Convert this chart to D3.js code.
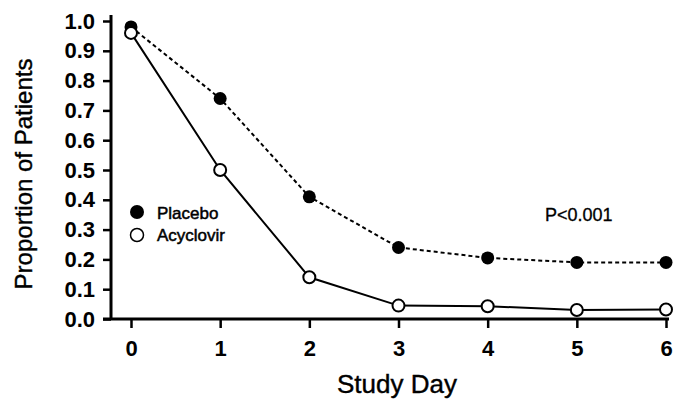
<!DOCTYPE html>
<html lang="en">
<head>
<meta charset="utf-8">
<script src="https://d3js.org/d3.v7.min.js"></script>
<style>
  body { margin: 0; background: #fff; }
  text { font-family: "Liberation Sans", Arial, sans-serif; fill: #000; }
  .tick text { font-weight: bold; font-size: 22px; }
</style>
</head>
<body>
<div id="chart"></div>
<script>
// data
var days = [0, 1, 2, 3, 4, 5, 6];
var placebo = [0.98, 0.74, 0.41, 0.24, 0.205, 0.19, 0.19];
var acyclovir = [0.96, 0.50, 0.14, 0.045, 0.043, 0.03, 0.032];
var yTicks = [0, 0.1, 0.2, 0.3, 0.4, 0.5, 0.6, 0.7, 0.8, 0.9, 1.0];

var W = 678, H = 402;
var svg = d3.select("#chart").append("svg")
  .attr("width", W).attr("height", H);

var x = d3.scaleLinear().domain([0, 6]).range([131, 666]);
var y = d3.scaleLinear().domain([0, 1]).range([319, 21]);

// y axis
var yAx = svg.append("g")
  .attr("transform", "translate(111,0)")
  .call(d3.axisLeft(y).tickValues(yTicks).tickFormat(d3.format(".1f")).tickSize(8).tickPadding(8).tickSizeOuter(0));
yAx.select(".domain").remove();
yAx.selectAll(".tick line").attr("stroke-width", 2.5);
yAx.append("line").attr("x1", 0).attr("x2", 0).attr("y1", 15).attr("y2", 320)
  .attr("stroke", "#000").attr("stroke-width", 3);

// x axis
var xAx = svg.append("g")
  .attr("transform", "translate(0,319)")
  .call(d3.axisBottom(x).tickValues(days).tickFormat(d3.format("d")).tickSize(9).tickPadding(12).tickSizeOuter(0));
xAx.select(".domain").remove();
xAx.selectAll(".tick line").attr("stroke-width", 2.5);
xAx.append("line").attr("x1", 103).attr("x2", 669).attr("y1", 0).attr("y2", 0)
  .attr("stroke", "#000").attr("stroke-width", 3);

// axis titles
svg.append("text")
  .attr("transform", "translate(32,174) rotate(-90)")
  .attr("text-anchor", "middle")
  .style("font-size", "24px").style("stroke", "#000").style("stroke-width", 0.4)
  .text("Proportion of Patients");
svg.append("text")
  .attr("x", 397).attr("y", 393)
  .attr("text-anchor", "middle")
  .style("font-size", "26px").style("stroke", "#000").style("stroke-width", 0.4)
  .text("Study Day");

var line = d3.line()
  .x(function(d, i) { return x(days[i]); })
  .y(function(d) { return y(d); });

svg.append("path").datum(placebo)
  .attr("d", line).attr("fill", "none").attr("stroke", "#000")
  .attr("stroke-width", 2).attr("stroke-dasharray", "4,3");
svg.append("path").datum(acyclovir)
  .attr("d", line).attr("fill", "none").attr("stroke", "#000")
  .attr("stroke-width", 2);

svg.selectAll("circle.pl").data(placebo).enter().append("circle")
  .attr("class", "pl")
  .attr("cx", function(d, i) { return x(days[i]); })
  .attr("cy", function(d) { return y(d); })
  .attr("r", 6.5).attr("fill", "#000");
svg.selectAll("circle.ac").data(acyclovir).enter().append("circle")
  .attr("class", "ac")
  .attr("cx", function(d, i) { return x(days[i]); })
  .attr("cy", function(d) { return y(d); })
  .attr("r", 6).attr("fill", "#fff").attr("stroke", "#000").attr("stroke-width", 2);

// legend
svg.append("circle").attr("cx", 137).attr("cy", 212).attr("r", 7).attr("fill", "#000");
svg.append("circle").attr("cx", 137).attr("cy", 235).attr("r", 6.5)
  .attr("fill", "#fff").attr("stroke", "#000").attr("stroke-width", 1.5);
svg.append("text").attr("x", 157).attr("y", 219).style("font-size", "17px")
  .style("stroke", "#000").style("stroke-width", 0.5).text("Placebo");
svg.append("text").attr("x", 157).attr("y", 241).style("font-size", "17px")
  .style("stroke", "#000").style("stroke-width", 0.5).text("Acyclovir");

svg.append("text").attr("x", 545).attr("y", 221).style("font-size", "18px")
  .style("stroke", "#000").style("stroke-width", 0.3).text("P<0.001");
</script>
</body>
</html>
